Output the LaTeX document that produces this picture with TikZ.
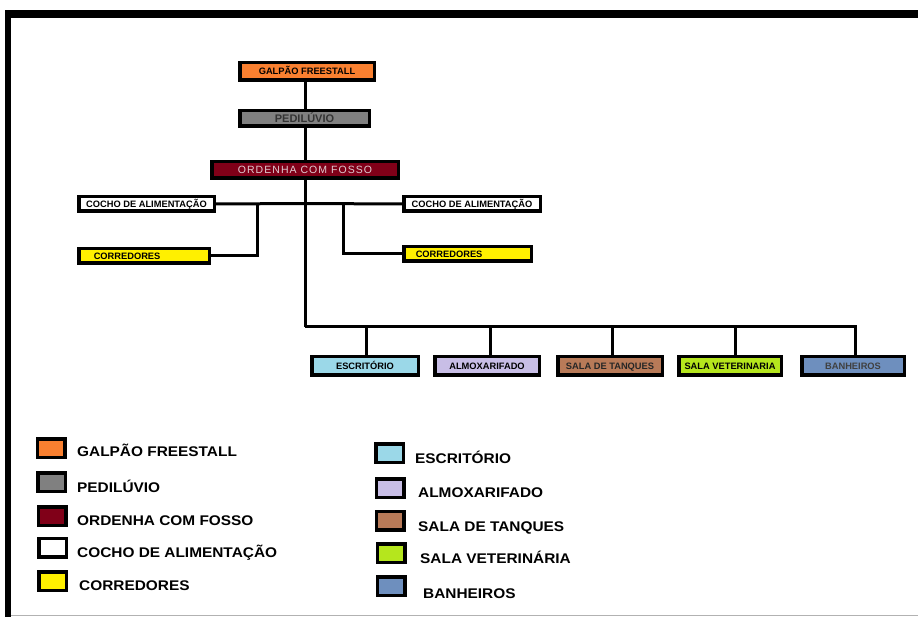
\documentclass[tikz,border=0pt]{standalone}
\usepackage{fontspec}
\setmainfont{Liberation Sans}
\newfontfamily\legfont[FakeStretch=1.1]{Liberation Sans}
\newfontfamily\spacedfont[LetterSpace=10]{Liberation Sans}
\usetikzlibrary{positioning}
\definecolor{galpaocol}{RGB}{250,128,48}
\definecolor{pedicol}{RGB}{128,128,128}
\definecolor{ordcol}{RGB}{128,0,24}
\definecolor{corcol}{RGB}{255,240,0}
\definecolor{escrcol}{RGB}{155,216,232}
\definecolor{almoxcol}{RGB}{200,190,230}
\definecolor{tanqcol}{RGB}{184,122,88}
\definecolor{vetcol}{RGB}{181,230,29}
\definecolor{banhcol}{RGB}{110,143,190}

\begin{document}
\begin{tikzpicture}[x=1pt,y=-1pt]
    %styles
    \tikzstyle{unit}=[rectangle,draw,line width=3.5pt,inner sep=0pt,minimum height=16pt,text height=6.7pt,text depth=0pt,font=\bfseries\fontsize{9.3}{9.3}\selectfont]
    \tikzstyle{legsq}=[rectangle,draw,line width=3.5pt,inner sep=0pt,minimum width=27.5pt,minimum height=18.5pt]
    \tikzstyle{legtxt}=[anchor=west,inner sep=0pt,text height=10pt,text depth=0pt,font=\legfont\bfseries\fontsize{14}{14}\selectfont]
    \tikzstyle{conn}=[line width=3pt]
    \useasboundingbox (0,0) rectangle (918,617);
    %frame
    \fill (5,10) rectangle (918,18);
    \fill (5,10) rectangle (11,617);
    \draw[black!30] (11,615.5)--(918,615.5);

    %nodes
    \node[unit,fill=galpaocol,minimum width=134.5pt,minimum height=17.5pt] (galpao) at (307,71.5) {GALPÃO FREESTALL};
    \node[unit,fill=pedicol,minimum width=129.5pt,minimum height=15.5pt,font=\bfseries\fontsize{11}{11}\selectfont,text height=8pt,text=black!80] (pedi) at (304.5,118.5) {PEDILÚVIO};
    \node[unit,fill=ordcol,minimum width=186.5pt,minimum height=16.5pt,font=\spacedfont\fontsize{10.5}{10.5}\selectfont,text height=7.5pt,text={rgb,255:red,225;green,205;blue,210}] (ordenha) at (305,170) {ORDENHA COM FOSSO};

    \node[unit,fill=white,minimum width=135.5pt,minimum height=14.5pt] (cochoL) at (146.5,204) {COCHO DE ALIMENTAÇÃO};
    \node[unit,fill=white,minimum width=136.5pt,minimum height=14.5pt] (cochoR) at (472,204) {COCHO DE ALIMENTAÇÃO};
    \node[unit,fill=corcol,minimum width=130.5pt,minimum height=14.5pt,text width=130.5pt,align=left] (corL) at (144,256) {\hspace*{15pt}CORREDORES};
    \node[unit,fill=corcol,minimum width=127.5pt,minimum height=14.5pt,text width=127.5pt,align=left] (corR) at (467.5,254) {\hspace*{12pt}CORREDORES};

    \node[unit,fill=escrcol,minimum width=106.5pt,minimum height=18.5pt] (escr) at (365,366) {ESCRITÓRIO};
    \node[unit,fill=almoxcol,minimum width=104.5pt,minimum height=18.5pt] (almox) at (487,366) {ALMOXARIFADO};
    \node[unit,fill=tanqcol,minimum width=104.5pt,minimum height=18.5pt,text=black!85] (tanq) at (610,366) {SALA DE TANQUES};
    \node[unit,fill=vetcol,minimum width=102.5pt,minimum height=18.5pt] (vet) at (730,366) {SALA VETERINARIA};
    \node[unit,fill=banhcol,minimum width=102.5pt,minimum height=18.5pt,text=black!75] (banh) at (853,366) {BANHEIROS};

    \coordinate (hub) at (305,203.5);
    \coordinate (bus) at (305,327);
    \coordinate (brL) at (257,203.5);
    \coordinate (brR) at (343,203.5);

    %arrows
    \draw[conn] (galpao.south -| bus)--(pedi.north -| bus);
    \draw[conn] (pedi.south -| bus)--(ordenha.north -| bus);
    \draw[conn] (ordenha.south -| bus)--(bus);
    \draw[conn] (cochoL.east)--(hub)--(cochoR.west);
    \draw[conn] (brL) |- (corL.east);
    \draw[conn] (brR) |- (corR.west);
    \draw[conn] (bus)-|(855,355);
    \draw[conn] (366,327)--(escr.north -| 366,0);
    \draw[conn] (490,327)--(almox.north -| 490,0);
    \draw[conn] (612,327)--(tanq.north -| 612,0);
    \draw[conn] (735,327)--(vet.north -| 735,0);

    %legend
    \node[legsq,fill=galpaocol] (lgalpao) at (51,448) {};
    \node[legsq,fill=pedicol] (lpedi) at (51.5,482) {};
    \node[legsq,fill=ordcol] (lordenha) at (52,516) {};
    \node[legsq,fill=white] (lcocho) at (52.5,547.5) {};
    \node[legsq,fill=corcol] (lcor) at (52.5,581) {};
    \node[legtxt] (tgalpao) at (77,451) {GALPÃO FREESTALL};
    \node[legtxt] (tpedi) at (77,487) {PEDILÚVIO};
    \node[legtxt] (tordenha) at (77,520) {ORDENHA COM FOSSO};
    \node[legtxt] (tcocho) at (77,552) {COCHO DE ALIMENTAÇÃO};
    \node[legtxt] (tcor) at (79,585) {CORREDORES};

    \node[legsq,fill=escrcol] (lescr) at (389.5,453) {};
    \node[legsq,fill=almoxcol] (lalmox) at (390,488) {};
    \node[legsq,fill=tanqcol] (ltanq) at (390,520.5) {};
    \node[legsq,fill=vetcol] (lvet) at (391,553) {};
    \node[legsq,fill=banhcol] (lbanh) at (391,586) {};
    \node[legtxt] (tescr) at (415,458) {ESCRITÓRIO};
    \node[legtxt] (talmox) at (418,492) {ALMOXARIFADO};
    \node[legtxt] (ttanq) at (418,526) {SALA DE TANQUES};
    \node[legtxt] (tvet) at (420,558) {SALA VETERINÁRIA};
    \node[legtxt] (tbanh) at (423,593) {BANHEIROS};

\end{tikzpicture}
\end{document}
